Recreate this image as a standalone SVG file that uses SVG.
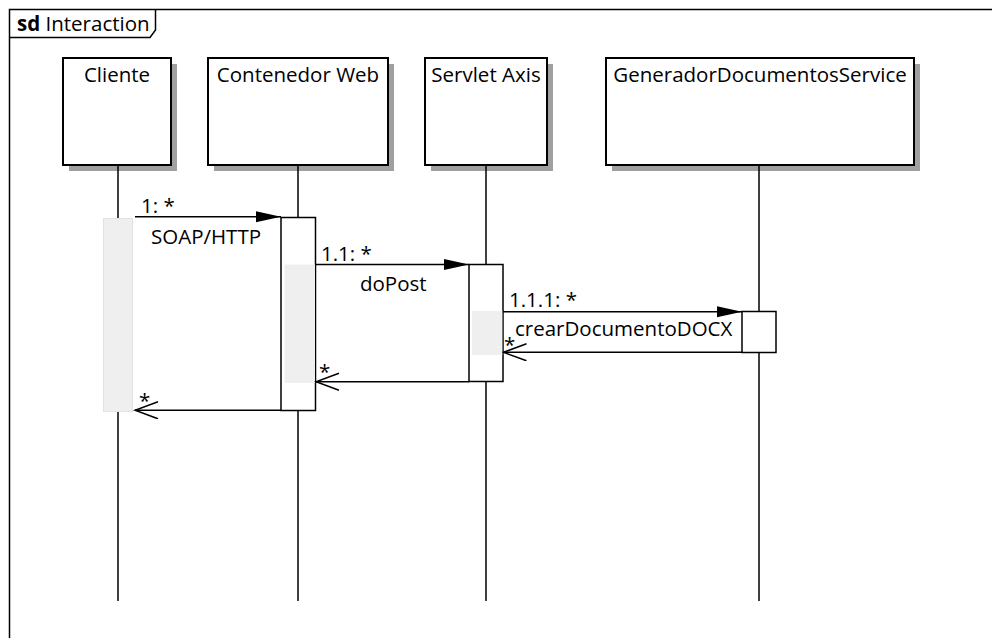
<svg xmlns="http://www.w3.org/2000/svg" width="992" height="638" viewBox="0 0 992 638">
  <style>
    text { font-family: "Open Sans", "Noto Sans", "DejaVu Sans", sans-serif; font-size: 20.5px; fill: #000; }
    .frame { fill: none; stroke: #000; stroke-width: 1.5; }
    .head { fill: #fff; stroke: #000; stroke-width: 2; }
    .shadow { fill: #a0a0a0; }
    .life { stroke: #000; stroke-width: 1.5; fill: none; }
    .act { fill: #fff; stroke: #000; stroke-width: 1.5; }
    .exec { fill: #efefef; }
    .exec-soft { fill: #efefef; stroke: #e2e2e2; stroke-width: 1; }
    .msg { stroke: #000; stroke-width: 1.5; fill: none; }
    .open { stroke: #000; stroke-width: 1.5; fill: none; }
    .mid { text-anchor: middle; }
  </style>
  <defs>
    <marker id="filled" markerWidth="26" markerHeight="12" refX="25" refY="6" orient="auto" markerUnits="userSpaceOnUse">
      <path d="M0,0.5 L25,6 L0,11.5 Z" fill="#000"/>
    </marker>
    <marker id="open" markerWidth="26" markerHeight="20" refX="24" refY="9" orient="auto" markerUnits="userSpaceOnUse">
      <path d="M1,0.5 L24,9 L1,17.5" fill="none" stroke="#000" stroke-width="1.5"/>
    </marker>
  </defs>

  <!-- interaction frame -->
  <g id="frame">
    <path class="frame" d="M9.5,638 L9.5,9.5 L992,9.5"/>
    <path class="frame" d="M9.5,37.5 L150,37.5 L155.5,30 L155.5,9.5"/>
    <text x="17" y="31"><tspan font-weight="bold">sd</tspan> Interaction</text>
  </g>

  <!-- lifelines -->
  <g id="cliente">
    <rect class="shadow" x="69" y="64" width="108" height="107"/>
    <rect class="head" x="63" y="58" width="108" height="107"/>
    <text class="mid" x="117" y="82">Cliente</text>
    <line class="life" x1="118" y1="165" x2="118" y2="601"/>
    <rect class="exec-soft" x="103.5" y="218.5" width="29" height="193"/>
  </g>

  <g id="contenedor-web">
    <rect class="shadow" x="214" y="64" width="180" height="107"/>
    <rect class="head" x="208" y="58" width="180" height="107"/>
    <text class="mid" x="298" y="82">Contenedor Web</text>
    <line class="life" x1="298" y1="165" x2="298" y2="601"/>
    <rect class="act" x="281" y="217.5" width="34.5" height="193"/>
    <rect class="exec" x="284.5" y="264.5" width="30.5" height="118.5"/>
  </g>

  <g id="servlet-axis">
    <rect class="shadow" x="431" y="64" width="122" height="107"/>
    <rect class="head" x="425" y="58" width="122" height="107"/>
    <text class="mid" x="486" y="82">Servlet Axis</text>
    <line class="life" x1="486" y1="165" x2="486" y2="601"/>
    <rect class="act" x="469" y="264.5" width="34" height="117"/>
    <rect class="exec" x="472" y="311" width="30.3" height="44"/>
  </g>

  <g id="generador-documentos-service">
    <rect class="shadow" x="612" y="64" width="308" height="107"/>
    <rect class="head" x="606" y="58" width="308" height="107"/>
    <text class="mid" x="760" y="82">GeneradorDocumentosService</text>
    <line class="life" x1="759" y1="165" x2="759" y2="601"/>
    <rect class="act" x="742" y="311.5" width="34" height="41"/>
  </g>

  <!-- messages -->
  <g id="connectors">
    <line class="msg" x1="135" y1="216.7" x2="281" y2="216.7" marker-end="url(#filled)"/>
    <text x="141" y="213">1: *</text>
    <text x="151" y="244">SOAP/HTTP</text>

    <line class="msg" x1="315.5" y1="264.5" x2="469" y2="264.5" marker-end="url(#filled)"/>
    <text x="321" y="261">1.1: *</text>
    <text x="360" y="291">doPost</text>

    <line class="msg" x1="503" y1="311.7" x2="742" y2="311.7" marker-end="url(#filled)"/>
    <text x="509" y="307">1.1.1: *</text>
    <text x="515" y="336">crearDocumentoDOCX</text>

    <line class="open" x1="742" y1="352.3" x2="503.5" y2="352.3" marker-end="url(#open)"/>
    <text x="504" y="352">*</text>

    <line class="open" x1="469" y1="381.7" x2="316" y2="381.7" marker-end="url(#open)"/>
    <text x="319" y="379">*</text>

    <line class="open" x1="281" y1="410.3" x2="135" y2="410.3" marker-end="url(#open)"/>
    <text x="139" y="408">*</text>
  </g>
</svg>
